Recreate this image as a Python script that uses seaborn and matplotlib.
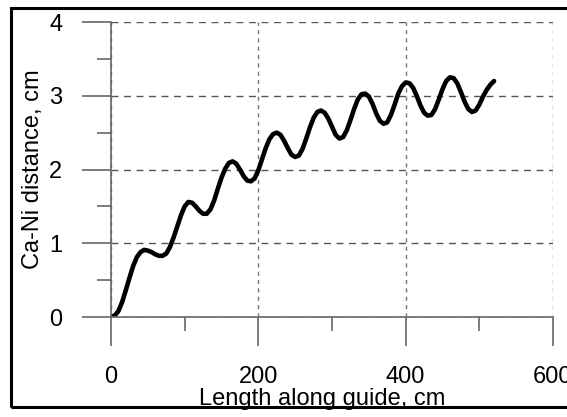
import numpy as np
import pandas as pd
import seaborn as sns
import matplotlib.pyplot as plt
from matplotlib.patches import Rectangle
from matplotlib.ticker import MultipleLocator

# curve, every 5 cm
length_cm = list(range(0, 525, 5))
distance_cm = [
    0.00, 0.02, 0.08, 0.20, 0.36, 0.53, 0.69, 0.81, 0.88, 0.91,
    0.90, 0.88, 0.85, 0.83, 0.83, 0.86, 0.95, 1.08, 1.23, 1.38,
    1.50, 1.56, 1.55, 1.50, 1.44, 1.40, 1.40, 1.46, 1.58, 1.74,
    1.89, 2.01, 2.09, 2.11, 2.08, 2.00, 1.91, 1.85, 1.84, 1.88,
    1.99, 2.14, 2.29, 2.41, 2.48, 2.50, 2.47, 2.39, 2.29, 2.20,
    2.17, 2.19, 2.28, 2.42, 2.57, 2.70, 2.78, 2.80, 2.77, 2.69,
    2.58, 2.47, 2.42, 2.44, 2.53, 2.67, 2.82, 2.95, 3.02, 3.03,
    2.99, 2.89, 2.76, 2.66, 2.62, 2.64, 2.74, 2.88, 3.03, 3.13,
    3.18, 3.17, 3.11, 3.00, 2.87, 2.77, 2.73, 2.74, 2.82, 2.95,
    3.09, 3.20, 3.25, 3.24, 3.17, 3.05, 2.92, 2.82, 2.78, 2.80,
    2.88, 2.99, 3.08, 3.15, 3.20,
]
x_major = [0, 200, 400, 600]
y_major = [0, 1, 2, 3, 4]

df = pd.DataFrame({"length": length_cm, "distance": distance_cm})

sns.set_theme(style="white")
plt.rcParams['font.family'] = ['Liberation Sans', 'DejaVu Sans']

fig = plt.figure(figsize=(5.67, 4.17), dpi=100)
ax = fig.add_axes([0.1958, 0.2398, 0.7795, 0.7074])

sns.lineplot(data=df, x="length", y="distance", color="black", lw=3.3, ax=ax)

ax.set_xlim(0, 600)
ax.set_ylim(0, 4)
ax.set_xticks(x_major)
ax.set_yticks(y_major)
ax.xaxis.set_minor_locator(MultipleLocator(100))
ax.yaxis.set_minor_locator(MultipleLocator(0.5))

for s in ["top", "right"]:
    ax.spines[s].set_visible(False)
for s in ["left", "bottom"]:
    ax.spines[s].set_color("#666666")
    ax.spines[s].set_linewidth(1.2)

ax.tick_params(which="both", bottom=True, left=True, top=False, right=False)
ax.tick_params(which="major", direction="out", length=21, width=1.2,
               color="#666666", labelsize=17, pad=14, labelcolor="black")
ax.tick_params(which="minor", direction="out", length=10, width=1.2,
               color="#666666")

ax.yaxis.grid(True, which="major", linestyle=(0, (5, 4)), color="#555555", lw=1.0)
ax.xaxis.grid(True, which="major", linestyle=(0, (3, 3)), color="#777777", lw=1.0)

ax.set_xlabel("Length along guide, cm", fontsize=17, color="black")
ax.set_ylabel("Ca-Ni distance, cm", fontsize=17, color="black")
ax.xaxis.set_label_coords(0.477, -0.24)
ax.yaxis.set_label_coords(-0.152, 0.5)

fig.patches.append(Rectangle((0.0194, 0.024), 1.05, 0.957, transform=fig.transFigure,
                             fill=False, edgecolor="black", lw=2.2, clip_on=False))

fig.savefig("out.png", dpi=100)
